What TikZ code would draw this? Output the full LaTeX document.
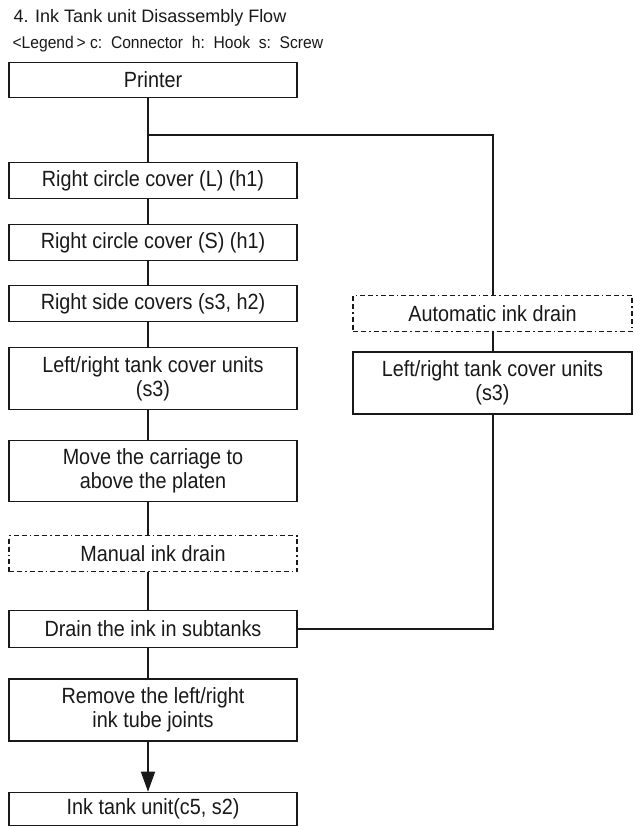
\documentclass[tikz,border=0pt]{standalone}
\usepackage{fontspec}
\setmainfont{Liberation Sans}
\newfontfamily\condfont{Liberation Sans}[FakeStretch=0.9]
\newfontfamily\legfont{Liberation Sans}[FakeStretch=0.92]
\usetikzlibrary{arrows.meta,calc}
\tikzset{
  box/.style={draw=black!90, line width=1.6pt, minimum width=288pt, inner sep=0pt,
    align=center, text=black!90, font=\condfont\fontsize{22}{24}\selectfont},
  rbox/.style={box, minimum width=279pt},
  dbox/.style={dash pattern=on 5pt off 3pt on 5pt off 3pt on 1.5pt off 3pt, line width=1.4pt},
  conn/.style={line width=1.6pt, draw=black!90},
}
\begin{document}
\begin{tikzpicture}[x=1pt,y=-1pt]
\useasboundingbox (0,0) rectangle (633,827);
\fill[white] (0,0) rectangle (633,827);
\node[anchor=base west, text=black!90, font=\fontsize{18}{20}\selectfont] (title) at (10,23) {4. Ink Tank unit Disassembly Flow};
\node[anchor=base west, text=black!90, font=\legfont\fontsize{17}{18}\selectfont] (legend) at (9,48) {<Legend\,> c:~~Connector~~h:~~Hook~~s:~~Screw};

\node[box, minimum height=35pt] (printer) at (153,80) {Printer};
\node[box, minimum height=36pt] (rcl) at (153,180.5) {Right circle cover (L) (h1)};
\node[box, minimum height=36pt] (rcs) at (153,242.5) {Right circle cover (S) (h1)};
\node[box, minimum height=36pt] (rsc) at (153,303.5) {Right side covers (s3, h2)};
\node[box, minimum height=62pt] (lrt) at (153,378.5) {Left/right tank cover units\\(s3)};
\node[box, minimum height=61pt] (move) at (153,471) {Move the carriage to\\above the platen};
\node[box, dbox, minimum height=36pt] (manual) at (153,553.5) {Manual ink drain};
\node[box, minimum height=37pt] (drain) at (153,629) {Drain the ink in subtanks};
\node[box, minimum height=62pt] (remove) at (153,710) {Remove the left/right\\ink tube joints};
\node[box, minimum height=33pt] (ink) at (153,809) {Ink tank unit(c5, s2)};

\node[rbox, dbox, minimum height=36pt] (auto) at (492.5,313.5) {Automatic ink drain};
\node[rbox, minimum height=62pt] (rlrt) at (492.5,383) {Left/right tank cover units\\(s3)};

\coordinate (br) at (148,135);
\coordinate (bc) at (493,135);

\draw[conn] (printer.south -| br) -- (rcl.north -| br);
\draw[conn] (br) -- (bc) -- (auto.north -| bc);
\draw[conn] (rcl.south -| br) -- (rcs.north -| br);
\draw[conn] (rcs.south -| br) -- (rsc.north -| br);
\draw[conn] (rsc.south -| br) -- (lrt.north -| br);
\draw[conn] (lrt.south -| br) -- (move.north -| br);
\draw[conn] (move.south -| br) -- (manual.north -| br);
\draw[conn] (manual.south -| br) -- (drain.north -| br);
\draw[conn] (drain.south -| br) -- (remove.north -| br);
\draw[conn, -{Triangle[length=20pt,width=14pt]}] (remove.south -| br) -- (ink.north -| br);
\draw[conn] (auto.south -| bc) -- (rlrt.north -| bc);
\draw[conn] (rlrt.south -| bc) |- (drain.east);
\end{tikzpicture}
\end{document}
